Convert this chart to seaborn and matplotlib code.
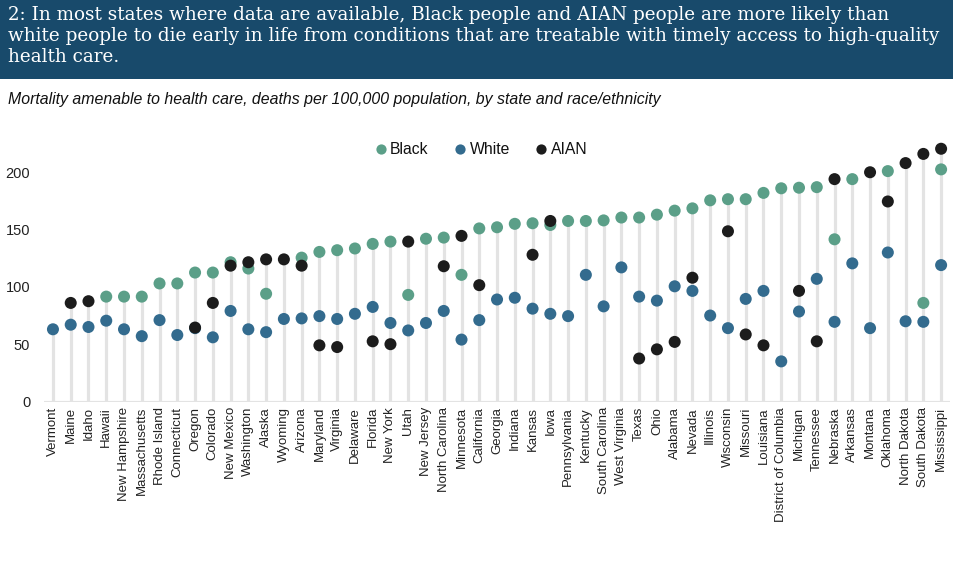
import matplotlib.pyplot as plt
import numpy as np
import pandas as pd
import seaborn as sns
from matplotlib.patches import Rectangle

sns.set_theme(style="white")
plt.rcParams["font.family"] = ["Liberation Sans", "DejaVu Sans"]

states = [
    "Vermont", "Maine", "Idaho", "Hawaii", "New Hampshire", "Massachusetts",
    "Rhode Island", "Connecticut", "Oregon", "Colorado", "New Mexico",
    "Washington", "Alaska", "Wyoming", "Arizona", "Maryland", "Virginia",
    "Delaware", "Florida", "New York", "Utah", "New Jersey", "North Carolina",
    "Minnesota", "California", "Georgia", "Indiana", "Kansas", "Iowa",
    "Pennsylvania", "Kentucky", "South Carolina", "West Virginia", "Texas",
    "Ohio", "Alabama", "Nevada", "Illinois", "Wisconsin", "Missouri",
    "Louisiana", "District of Columbia", "Michigan", "Tennessee", "Nebraska",
    "Arkansas", "Montana", "Oklahoma", "North Dakota", "South Dakota",
    "Mississippi",
]

nan = np.nan
black = [
    nan, nan, nan, 91.5, 91.5, 91.5, 103, 103, 112.5, 112.5, 121.5,
    116, 94, nan, 125.5, 130.5, 132, 133.5, 137.5, 139.5, 93, 142, 143,
    110.5, 151, 152, 155, 155.5, 154, 157.5, 157.5, 158, 160.5, 160.5,
    163, 166.5, 168.5, 175.5, 176.5, 176.5, 182, 186, 186.5, 187, 141.5,
    194, nan, 201, nan, 86, 202.5,
]
white = [
    63, 67, 65, 70.5, 63, 57, 71, 58, 64, 56, 79,
    63, 60.5, 72, 72.5, 74.5, 72, 76.5, 82.5, 68.5, 62, 68.5, 79,
    54, 71, 89, 90.5, 81, 76.5, 74.5, 110.5, 83, 117, 91.5,
    88, 100.5, 96.5, 75, 64, 89.5, 96.5, 35, 78.5, 107, 69.5,
    120.5, 64, 130, 70, 69.5, 119,
]
aian = [
    nan, 86, 87.5, nan, nan, nan, nan, nan, 64.5, 86, 118.5,
    121.5, 124, 124, 118.5, 49, 47.5, nan, 52.5, 50, 139.5, nan, 118,
    144.5, 101.5, nan, nan, 128, 157.5, nan, nan, nan, nan, 37.5,
    45.5, 52, 108, nan, 148.5, 58.5, 49, nan, 96.5, 52.5, 194,
    nan, 200, 174.5, 208, 216, 220.5,
]

groups = ["Black", "White", "AIAN"]
colors = ["#5b9f88", "#336b8e", "#1c1c1c"]

df = pd.DataFrame({"state": states, "Black": black, "White": white, "AIAN": aian})
long = df.melt(id_vars="state", value_vars=groups, var_name="group", value_name="rate")
long = long.dropna()
long["x"] = long["state"].map({s: i for i, s in enumerate(states)})

fig = plt.figure(figsize=(9.54, 5.73), dpi=100)
ax = fig.add_axes([0.0462, 0.2993, 0.9496, 0.4651])

# stems from zero up to the highest value of each state
tops = df[groups].max(axis=1)
ax.vlines(np.arange(len(states)), 0, tops, color="#e3e3e3", linewidth=2.3, zorder=1)
ax.axhline(0, color="#e3e3e3", linewidth=2.3, zorder=1)

sns.scatterplot(
    data=long, x="x", y="rate", hue="group", hue_order=groups,
    palette=colors, s=75, linewidth=0, edgecolor="none", ax=ax, zorder=3,
)

ax.set_xlim(-0.5, len(states) - 0.5)
ax.set_ylim(0, 232.5)
ax.set_xticks(np.arange(len(states)))
ax.set_xticklabels(states, rotation=90, fontsize=9.5, color="#222222")
ax.set_yticks([0, 50, 100, 150, 200])
ax.tick_params(axis="y", labelsize=10.5, length=0, pad=10, labelcolor="#222222")
ax.tick_params(axis="x", length=0, pad=4)
ax.set_xlabel("")
ax.set_ylabel("")
for sp in ax.spines.values():
    sp.set_visible(False)

leg = ax.legend(
    loc="center", bbox_to_anchor=(0.483, 0.944), ncol=3, frameon=False,
    fontsize=11.3, handlelength=0.6, handletextpad=0.3, columnspacing=1.7,
    markerscale=0.85,
)
for t in leg.get_texts():
    t.set_color("#111111")

# title banner
fig.patches.append(Rectangle((0, 0.862), 1, 0.138, transform=fig.transFigure,
                             facecolor="#184a6b", edgecolor="none", zorder=0))
fig.text(
    0.008, 0.990,
    "2: In most states where data are available, Black people and AIAN people are more likely than\n"
    "white people to die early in life from conditions that are treatable with timely access to high-quality\n"
    "health care.",
    color="white", fontsize=13.2, family="DejaVu Serif", va="top", ha="left",
    linespacing=1.22,
)
fig.text(
    0.008, 0.826,
    "Mortality amenable to health care, deaths per 100,000 population, by state and race/ethnicity",
    color="#111111", fontsize=11.45, style="italic", va="center", ha="left",
)

fig.savefig("out.png", dpi=100)
